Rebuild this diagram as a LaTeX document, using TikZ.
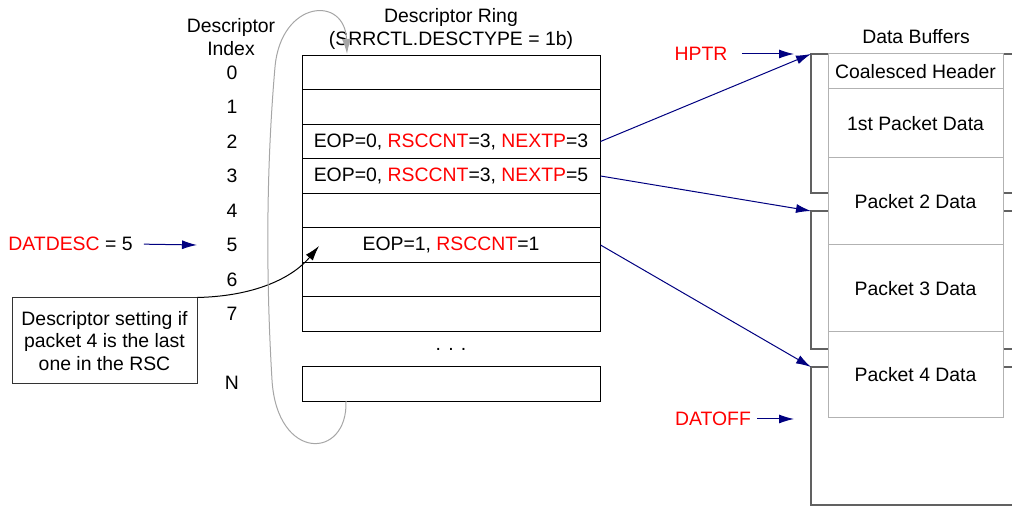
\documentclass[tikz,border=0pt]{standalone}
\usepackage{fontspec}
\setmainfont{Liberation Sans}
\usepackage{tikz}
\usetikzlibrary{arrows.meta, positioning}
\definecolor{navy1}{RGB}{0, 0, 128}
\definecolor{red1}{RGB}{255, 0, 0}
\newcommand{\rd}[1]{\textcolor{red1}{#1}}

\begin{document}
\begin{tikzpicture}[
  x=0.5pt, y=-0.5pt,
  every node/.style={font=\fontsize{9.7pt}{11.3pt}\selectfont, inner sep=0pt},
  ringrow/.style={draw, line width=0.5pt, minimum width=149pt, minimum height=17.25pt},
  pbox/.style={draw=gray!60, fill=white, line width=0.5pt, minimum width=87.5pt},
  bufframe/.style={draw=black!62, line width=0.7pt},
  ptr/.style={draw=navy1, line width=0.5pt, -{Latex[length=7.5pt, width=4.5pt]}},
  note/.style={draw=black!80, line width=0.5pt, minimum width=92.5pt, minimum height=43pt, align=center}
]
  \useasboundingbox (0, 0) rectangle (1012, 506);

  % descriptor ring
  \node[align=center] (ringtitle) at (451, 29) {Descriptor Ring\\(SRRCTL.DESCTYPE = 1b)};
  \node[align=center] (idxtitle) at (231, 37) {Descriptor\\Index};
  \foreach \i in {0,...,7} {
    \node[ringrow] (desc\i) at (451, 72.5+34.5*\i) {};
    \node (idx\i) at (232, 72.5+34.5*\i) {\i};
  }
  \node[ringrow] (descN) at (451, 384) {};
  \node (idxN) at (232, 383) {N};
  \node (dots) at (451, 349) {. . .};
  \node (eop2) at (desc2) {EOP=0, \rd{RSCCNT}=3, \rd{NEXTP}=3};
  \node (eop3) at (desc3) {EOP=0, \rd{RSCCNT}=3, \rd{NEXTP}=5};
  \node (eop5) at (desc5) {EOP=1, \rd{RSCCNT}=1};

  % data buffers
  \node (buftitle) at (916, 37) {Data Buffers};
  \coordinate (buf1) at (811, 54);
  \coordinate (buf2) at (811, 211);
  \coordinate (buf3) at (811, 367);
  \draw[bufframe] (1012, 54) -- (buf1) -- (811, 193) -- (1012, 193);
  \draw[bufframe] (1012, 211) -- (buf2) -- (811, 349) -- (1012, 349);
  \draw[bufframe] (1012, 367) -- (buf3) -- (811, 505) -- (1012, 505);
  \node[pbox, minimum height=17.5pt] (hdr) at (915.5, 71.5) {Coalesced Header};
  \node[pbox, minimum height=34.5pt] (pkt1) at (915.5, 123.5) {1st Packet Data};
  \node[pbox, minimum height=43.5pt] (pkt2) at (915.5, 201.5) {Packet 2 Data};
  \node[pbox, minimum height=43.5pt] (pkt3) at (915.5, 288.5) {Packet 3 Data};
  \node[pbox, minimum height=43pt] (pkt4) at (915.5, 375) {Packet 4 Data};

  % pointers
  \draw[ptr] (desc2.east) -- (buf1);
  \draw[ptr] (desc3.east) -- (buf2);
  \draw[ptr] (desc5.east) -- (buf3);
  \node[text=red1] (hptr) at (701, 54) {HPTR};
  \coordinate (hptrend) at (794, 54);
  \draw[ptr, shorten <=7pt] (hptr.east) -- (hptrend);
  \node[text=red1] (datoff) at (713, 419) {DATOFF};
  \coordinate (datoffend) at (794, 419);
  \draw[ptr, shorten <=3pt] (datoff.east) -- (datoffend);
  \node (datdesc) at (70.5, 244) {\rd{DATDESC} = 5};
  \coordinate (datdescend) at (197, 245);
  \draw[ptr, shorten <=5.5pt] (datdesc.east) -- (datdescend);

  % callout and ring wrap
  \node[note] (note) at (104.5, 341) {Descriptor setting if\\packet 4 is the last\\one in the RSC};
  \coordinate (notetip) at (319, 246);
  \draw[line width=0.5pt, -{Latex[length=7.5pt, width=4.5pt]}] (note.north east) .. controls (260, 296) and (295, 275) .. (notetip);
  \coordinate (wrapstart) at (346, 401);
  \coordinate (wrapend) at (347, 54);
  \draw[gray!70, line width=0.5pt, -{Latex[length=7.5pt, width=4.5pt]}] (wrapstart) .. controls (348, 460) and (277, 462) .. (272, 380)
    .. controls (266, 280) and (266, 170) .. (275, 67) .. controls (281, 0) and (345, -5) .. (wrapend);
\end{tikzpicture}
\end{document}
